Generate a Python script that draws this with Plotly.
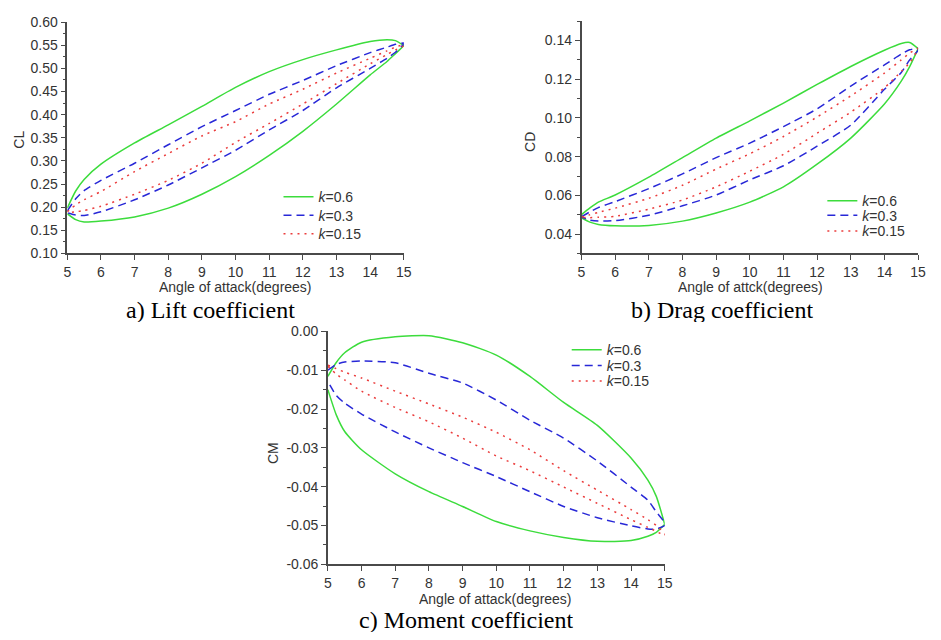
import plotly.graph_objects as go

# ---------------- data ----------------
ALPHA = [5, 5.25, 5.5, 6, 7, 8, 9, 10, 11, 12, 13, 14, 14.5, 14.75, 15]
K_LABELS = ["<i>k</i>=0.6", "<i>k</i>=0.3", "<i>k</i>=0.15"]

# Lift coefficient (upper / lower branches of the hysteresis loops)
cl_k06_up = [0.198, 0.235, 0.260, 0.293, 0.339, 0.378, 0.418, 0.459, 0.493, 0.519, 0.540, 0.558, 0.562, 0.560, 0.549]
cl_k06_lo = [0.186, 0.173, 0.168, 0.170, 0.179, 0.198, 0.228, 0.266, 0.312, 0.364, 0.423, 0.486, 0.515, 0.532, 0.549]
cl_k03_up = [0.192, 0.218, 0.236, 0.258, 0.295, 0.335, 0.374, 0.409, 0.444, 0.474, 0.506, 0.534, 0.546, 0.552, 0.555]
cl_k03_lo = [0.188, 0.183, 0.182, 0.190, 0.216, 0.248, 0.285, 0.323, 0.367, 0.409, 0.458, 0.500, 0.522, 0.535, 0.553]
cl_k015_up = [0.190, 0.205, 0.216, 0.234, 0.277, 0.316, 0.354, 0.385, 0.423, 0.455, 0.490, 0.522, 0.538, 0.546, 0.551]
cl_k015_lo = [0.188, 0.190, 0.193, 0.202, 0.228, 0.258, 0.295, 0.340, 0.381, 0.423, 0.467, 0.510, 0.530, 0.540, 0.549]

# Drag coefficient
cd_k06_up = [0.0501, 0.0535, 0.0565, 0.0602, 0.0694, 0.0795, 0.0896, 0.0985, 0.1077, 0.1173, 0.1266, 0.1350, 0.1385, 0.1390, 0.1358]
cd_k06_lo = [0.0484, 0.0462, 0.0450, 0.0443, 0.0445, 0.0467, 0.0509, 0.0565, 0.0644, 0.0761, 0.0896, 0.1072, 0.1190, 0.1265, 0.1358]
cd_k03_up = [0.0490, 0.0515, 0.0537, 0.0568, 0.0635, 0.0711, 0.0795, 0.0870, 0.0955, 0.1047, 0.1165, 0.1274, 0.1330, 0.1352, 0.1360]
cd_k03_lo = [0.0488, 0.0472, 0.0467, 0.0470, 0.0497, 0.0546, 0.0602, 0.0680, 0.0753, 0.0854, 0.0963, 0.1148, 0.1235, 0.1300, 0.1350]
cd_k015_up = [0.0488, 0.0500, 0.0512, 0.0534, 0.0585, 0.0652, 0.0736, 0.0815, 0.0904, 0.1005, 0.1114, 0.1232, 0.1300, 0.1335, 0.1360]
cd_k015_lo = [0.0486, 0.0485, 0.0487, 0.0492, 0.0529, 0.0576, 0.0644, 0.0725, 0.0812, 0.0921, 0.1030, 0.1156, 0.1240, 0.1285, 0.1355]

# Moment coefficient
cm_k06_up = [-0.0116, -0.0080, -0.0055, -0.0028, -0.0014, -0.0011, -0.0029, -0.0061, -0.0116, -0.0183, -0.0242, -0.0326, -0.0383, -0.0425, -0.0497]
cm_k06_lo = [-0.0150, -0.0215, -0.0258, -0.0305, -0.0367, -0.0413, -0.0451, -0.0490, -0.0514, -0.0531, -0.0541, -0.0539, -0.0528, -0.0518, -0.0497]
cm_k03_up = [-0.0100, -0.0085, -0.0079, -0.0076, -0.0081, -0.0108, -0.0133, -0.0177, -0.0229, -0.0275, -0.0334, -0.0401, -0.0435, -0.0465, -0.0493]
cm_k03_lo = [-0.0129, -0.0165, -0.0185, -0.0213, -0.0259, -0.0300, -0.0338, -0.0374, -0.0413, -0.0451, -0.0480, -0.0501, -0.0509, -0.0509, -0.0500]
cm_k015_up = [-0.0087, -0.0096, -0.0105, -0.0120, -0.0154, -0.0187, -0.0221, -0.0260, -0.0305, -0.0359, -0.0409, -0.0459, -0.0485, -0.0500, -0.0522]
cm_k015_lo = [-0.0090, -0.0110, -0.0125, -0.0154, -0.0196, -0.0233, -0.0275, -0.0321, -0.0359, -0.0401, -0.0443, -0.0485, -0.0505, -0.0515, -0.0526]

# tick labels
x_ticks = [5, 6, 7, 8, 9, 10, 11, 12, 13, 14, 15]
cl_ticks = [0.10, 0.15, 0.20, 0.25, 0.30, 0.35, 0.40, 0.45, 0.50, 0.55, 0.60]
cl_ticktext = ["0.10", "0.15", "0.20", "0.25", "0.30", "0.35", "0.40", "0.45", "0.50", "0.55", "0.60"]
cd_ticks = [0.04, 0.06, 0.08, 0.10, 0.12, 0.14]
cd_ticktext = ["0.04", "0.06", "0.08", "0.10", "0.12", "0.14"]
cm_ticks = [-0.06, -0.05, -0.04, -0.03, -0.02, -0.01, 0.00]
cm_ticktext = ["-0.06", "-0.05", "-0.04", "-0.03", "-0.02", "-0.01", "0.00"]

# ---------------- styling ----------------
WIN_W, WIN_H = 941, 640
OFF = 8                      # default page body margin (all sides)
W, H = WIN_W - 2 * OFF, WIN_H - 2 * OFF
COLORS = ["rgb(60,220,60)", "rgb(40,40,215)", "rgb(235,60,60)"]
DASHES = ["solid", "8px,5px", "2px,5px"]
AX_COLOR = "#4a4a4a"
TXT = "#333333"
SANS = "Liberation Sans, Arial, sans-serif"
SERIF = "Liberation Serif, Times New Roman, serif"


def px_x(p):
    return (p - OFF) / W


def px_y(p):
    return 1 - (p - OFF) / H


fig = go.Figure()

panels = [
    ("x", "y", [(cl_k06_up, cl_k06_lo), (cl_k03_up, cl_k03_lo), (cl_k015_up, cl_k015_lo)]),
    ("x2", "y2", [(cd_k06_up, cd_k06_lo), (cd_k03_up, cd_k03_lo), (cd_k015_up, cd_k015_lo)]),
    ("x3", "y3", [(cm_k06_up, cm_k06_lo), (cm_k03_up, cm_k03_lo), (cm_k015_up, cm_k015_lo)]),
]

legend_id = 0
for xa, ya, series in panels:
    for i, (up, lo) in enumerate(series):
        legend_id += 1
        fig.add_trace(go.Scatter(
            x=ALPHA + ALPHA[::-1],
            y=up + lo[::-1],
            mode="lines",
            name=K_LABELS[i],
            line=dict(color=COLORS[i], width=1.5, dash=DASHES[i], shape="spline", smoothing=0.6),
            xaxis=xa, yaxis=ya,
            legend="legend" if legend_id == 1 else "legend%d" % legend_id,
            hoverinfo="skip",
        ))

common_axis = dict(
    showline=True, linecolor=AX_COLOR, linewidth=1.5, mirror=False,
    showgrid=False, zeroline=False, ticks="outside", ticklen=5, tickwidth=1.2,
    tickcolor=AX_COLOR, tickfont=dict(family=SANS, size=14, color=TXT),
)

xdomains = [(64, 405), (585, 926), (328, 669.3)]
ydomains = [(14.3, 251.7), (13.3, 251.7), (331.7, 570.7)]
yranges = [[0.10, 0.60], [0.03, 0.15], [-0.06, 0.0]]
yticks = [(cl_ticks, cl_ticktext, 0.025, 0.10), (cd_ticks, cd_ticktext, 0.01, 0.03), (cm_ticks, cm_ticktext, 0.005, -0.06)]
names = ["", "2", "3"]

for k in range(3):
    xd = xdomains[k]
    yd = ydomains[k]
    fig.update_layout(**{
        "xaxis" + names[k]: dict(
            common_axis, domain=[px_x(xd[0]), px_x(xd[1])], range=[5, 15],
            tickmode="array", tickvals=x_ticks, ticktext=[str(t) for t in x_ticks],
            anchor="y" + names[k],
        ),
        "yaxis" + names[k]: dict(
            common_axis, domain=[px_y(yd[1]), px_y(yd[0])], range=yranges[k],
            tickmode="array", tickvals=yticks[k][0], ticktext=yticks[k][1],
            minor=dict(ticks="outside", ticklen=3, tickcolor=AX_COLOR, tickwidth=1,
                       tickmode="linear", tick0=yticks[k][3], dtick=yticks[k][2]),
            anchor="x" + names[k],
        ),
    })

# one single-item legend per line so rows sit exactly like the reference
legend_style = dict(font=dict(family=SANS, size=14, color=TXT), bgcolor="rgba(0,0,0,0)",
                    xanchor="left", yanchor="middle", xref="paper", yref="paper",
                    itemwidth=30, tracegroupgap=0)
legend_left = [278, 829, 570]
legend_rows = [(194, 213, 232), (198, 213, 229), (351, 367, 383)]
lay = {}
n = 0
for p in range(3):
    for r in range(3):
        n += 1
        key = "legend" if n == 1 else "legend%d" % n
        lay[key] = dict(legend_style, x=px_x(legend_left[p]), y=px_y(legend_rows[p][r]))
fig.update_layout(**lay, showlegend=True)

TITLE_FONT = dict(family=SANS, size=14, color=TXT)
CAP_FONT = dict(family=SERIF, size=24, color="black")
annots = [
    # axis titles
    dict(text="CL", x=px_x(15), y=px_y(135), textangle=-90, font=TITLE_FONT),
    dict(text="CD", x=px_x(532), y=px_y(137), textangle=-90, font=TITLE_FONT),
    dict(text="CM", x=px_x(273), y=px_y(457), textangle=-90, font=TITLE_FONT),
    dict(text="Angle of attack(degrees)", x=px_x(234), y=px_y(286), font=TITLE_FONT, height=16),
    dict(text="Angle of attck(degrees)", x=px_x(756), y=px_y(286), font=TITLE_FONT, height=16),
    dict(text="Angle of attack(degrees)", x=px_x(498), y=px_y(606), font=TITLE_FONT, height=16),
    # captions
    dict(text="a) Lift coefficient", x=px_x(209), y=px_y(310), font=CAP_FONT, height=24),
    dict(text="b) Drag coefficient", x=px_x(727), y=px_y(310), font=CAP_FONT, height=24),
    dict(text="c) Moment coefficient", x=px_x(468), y=px_y(628), font=CAP_FONT, height=24),
]
for a in annots:
    a.update(xref="paper", yref="paper", showarrow=False, xanchor="center", yanchor="middle")

fig.update_layout(
    annotations=annots,
    width=W, height=H,
    margin=dict(l=0, r=0, t=0, b=0),
    paper_bgcolor="white", plot_bgcolor="white",
)

fig.write_html("out.html")
